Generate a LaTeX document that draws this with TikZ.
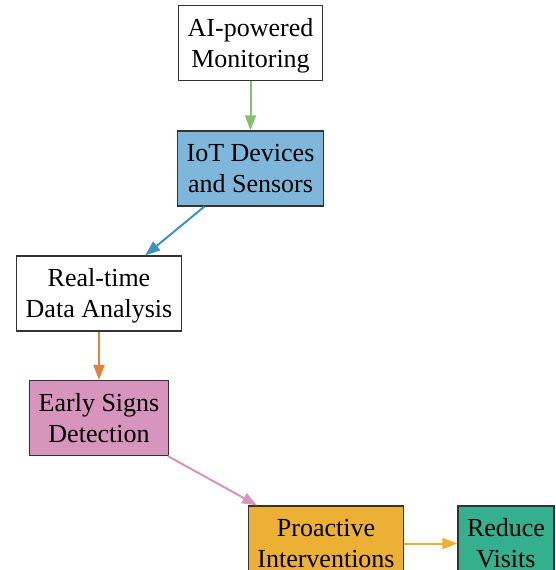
\documentclass[tikz,border=0pt]{standalone}
\usepackage{fontspec}
\setmainfont{Liberation Serif}
\usetikzlibrary{arrows.meta}

\definecolor{linkgreen}{HTML}{86BF6E}
\definecolor{iotblue}{HTML}{7FB7DA}
\definecolor{linkblue}{HTML}{3A92C5}
\definecolor{linkorange}{HTML}{E4813A}
\definecolor{signpink}{HTML}{D795BD}
\definecolor{actgold}{HTML}{EBB034}
\definecolor{visitteal}{HTML}{35B08E}
\definecolor{edge}{HTML}{333333}

% two-line label with struts, so every label has the same ascent and descent
\newcommand{\twolines}[2]{\rule{0pt}{23pt}#1\\#2\rule[-5.7pt]{0pt}{5.7pt}}

\tikzset{
  stage/.style={draw=edge, line width=1.2pt, align=center,
    inner xsep=9pt, inner ysep=0pt, minimum height=75pt,
    font=\fontsize{26}{31}\selectfont},
  flow/.style={line width=2pt, -{Triangle[length=15pt,width=11pt]}}
}

\begin{document}
\begin{tikzpicture}[x=1pt, y=-1pt]
  \useasboundingbox (0,0) rectangle (556,570);

  \node[stage, fill=white]     (ai)  at (250.5,43)    {\twolines{AI-powered}{Monitoring}};
  \node[stage, fill=iotblue]   (iot) at (250.5,168.5) {\twolines{IoT Devices}{and Sensors}};
  \node[stage, fill=white]     (rt)  at (99,293.5)    {\twolines{Real-time}{Data Analysis}};
  \node[stage, fill=signpink]  (es)  at (99,418)      {\twolines{Early Signs}{Detection}};
  \node[stage, fill=actgold]   (pi)  at (326,543.5)   {\twolines{Proactive}{Interventions}};
  \node[stage, fill=visitteal] (rv)  at (506,543.5)   {\twolines{Reduce}{Visits}};

  \draw[flow, linkgreen]  (ai) -- (iot);
  \draw[flow, linkblue]   (iot) -- (rt);
  \draw[flow, linkorange] (rt) -- (es);
  \draw[flow, signpink]   (es) -- (pi);
  \draw[flow, actgold]    (pi) -- (rv);
\end{tikzpicture}
\end{document}
